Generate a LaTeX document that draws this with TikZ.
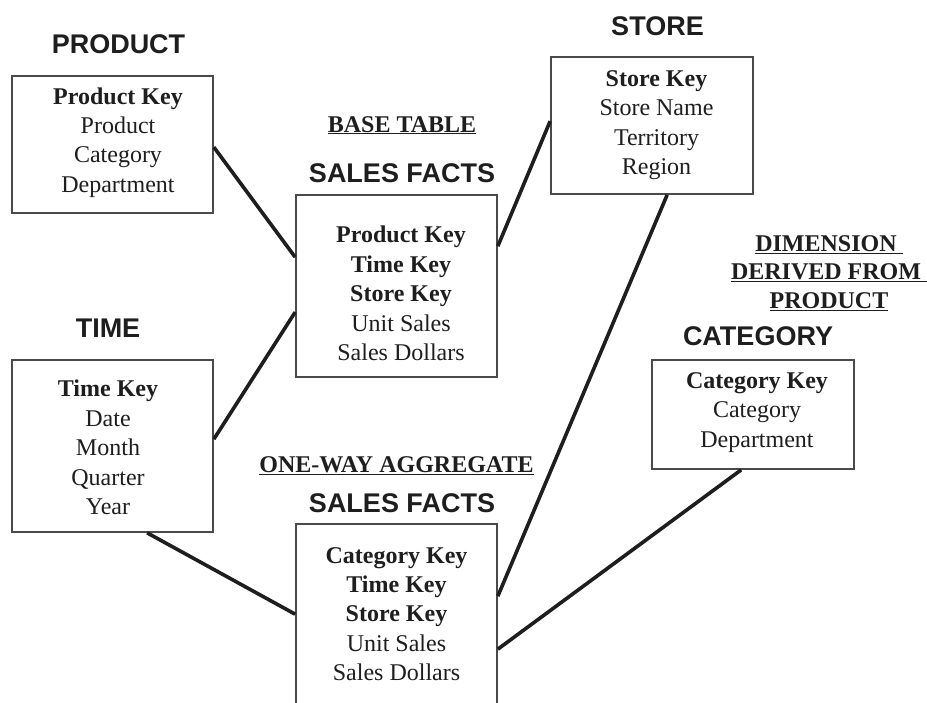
\documentclass[tikz,border=0pt]{standalone}
\usepackage{fontspec}
\setmainfont{Liberation Serif}
\newfontfamily\titlefont{Liberation Sans}
\usetikzlibrary{calc}
\definecolor{boxgray}{HTML}{4A4A4A}
\definecolor{ink}{HTML}{1E1E1E}
\begin{document}
\begin{tikzpicture}[x=1pt,y=-1pt,
  tbl/.style={draw=boxgray, line width=1.7pt, inner sep=0pt, fill=none},
  fields/.style={align=center, inner sep=0pt, text=ink, font=\fontsize{24}{29.4}\selectfont},
  ttl/.style={anchor=base, inner sep=0pt, text=ink, font=\titlefont\bfseries\fontsize{27}{32}\selectfont},
  note/.style={anchor=base, align=center, inner sep=0pt, text=ink, font=\bfseries\fontsize{24}{28.6}\selectfont},
  conn/.style={draw=ink, line width=3.6pt}]
\useasboundingbox (0,0) rectangle (927,702);
\fill[white] (0,0) rectangle (927,702);

% boxes
\node[tbl, minimum width=201pt, minimum height=137pt] (prod) at (112.5,144.5) {};
\node[tbl, minimum width=201pt, minimum height=182pt] (base) at (396.5,286) {};
\node[tbl, minimum width=202pt, minimum height=137pt] (store) at (652,125.5) {};
\node[tbl, minimum width=201pt, minimum height=172pt] (time) at (112.5,446) {};
\node[tbl, minimum width=202pt, minimum height=109pt] (cat) at (753,414.5) {};
\node[tbl, minimum width=201pt, minimum height=186pt] (agg) at (396.5,617) {};

% titles
\node[ttl] (tprod) at (118.5,53) {PRODUCT};
\node[ttl] (tbase) at (402,182) {SALES FACTS};
\node[ttl] (tstore) at (657.5,35) {STORE};
\node[ttl] (ttime) at (108,337) {TIME};
\node[ttl] (tcat) at (758,345) {CATEGORY};
\node[ttl] (tagg) at (402,512) {SALES FACTS};

% notes
\node[note] (nbase) at (402,132) {\underline{BASE TABLE}};
\node[note, anchor=north] (ndim) at (829,235) {\underline{DIMENSION\ }\\\underline{DERIVED FROM\ }\\\underline{PRODUCT}};
\node[note] (nagg) at (396.5,472) {\underline{ONE-WAY AGGREGATE}};

% fields
\node[fields] (fprod) at (118,142.5) {\textbf{Product Key}\\Product\\Category\\Department};
\node[fields] (fbase) at (401,293.5) {\textbf{Product Key}\\\textbf{Time Key}\\\textbf{Store Key}\\Unit Sales\\Sales Dollars};
\node[fields] (fstore) at (656.5,125) {\textbf{Store Key}\\Store Name\\Territory\\Region};
\node[fields] (ftime) at (108,447.5) {\textbf{Time Key}\\Date\\Month\\Quarter\\Year};
\node[fields] (fcat) at (757,412.3) {\textbf{Category Key}\\Category\\Department};
\node[fields] (fagg) at (396.5,614) {\textbf{Category Key}\\\textbf{Time Key}\\\textbf{Store Key}\\Unit Sales\\Sales Dollars};

% connectors
\draw[conn] ($(prod.north east)+(0,72)$) -- ($(base.north west)+(0,63)$);
\draw[conn] ($(time.north east)+(0,80)$) -- ($(base.north west)+(0,118)$);
\draw[conn] ($(base.north east)+(0,52)$) -- ($(store.north west)+(0,65)$);
\draw[conn] ($(store.south west)+(117,0)$) -- ($(agg.north east)+(0,73)$);
\draw[conn] ($(time.south west)+(136,0)$) -- ($(agg.north west)+(0,91)$);
\draw[conn] ($(cat.south west)+(90,0)$) -- ($(agg.north east)+(0,126)$);
\end{tikzpicture}
\end{document}
